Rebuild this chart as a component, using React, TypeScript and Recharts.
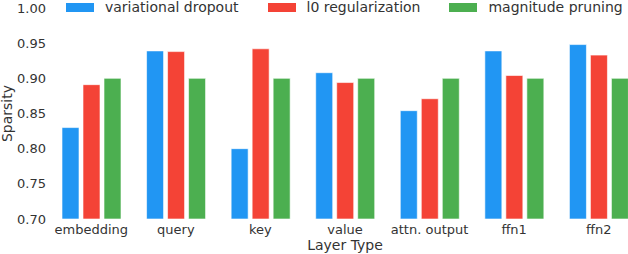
import { Bar, BarChart, Legend, XAxis, YAxis } from "recharts";

// values
const layers = ["embedding", "query", "key", "value", "attn. output", "ffn1", "ffn2"];
const variationalDropout = [0.83, 0.939, 0.8, 0.908, 0.854, 0.939, 0.948];
const l0Regularization = [0.891, 0.938, 0.942, 0.894, 0.871, 0.904, 0.933];
const magnitudePruning = [0.9, 0.9, 0.9, 0.9, 0.9, 0.9, 0.9];
const seriesNames = ["variational dropout", "l0 regularization", "magnitude pruning"];
const yTicks = [0.7, 0.75, 0.8, 0.85, 0.9, 0.95, 1.0];

const data = layers.map((name, i) => ({
  name,
  vd: variationalDropout[i],
  l0: l0Regularization[i],
  mp: magnitudePruning[i],
}));

const FONT = "'DejaVu Sans', sans-serif";
const TEXT = "#333";

function LegendRow(props: any) {
  // keep series order (recharts sorts legend entries by name otherwise)
  const items = [...(props.payload || [])].sort(
    (a: any, b: any) => seriesNames.indexOf(a.value) - seriesNames.indexOf(b.value)
  );
  return (
    <div style={{ display: "flex", fontFamily: FONT, fontSize: 14, color: TEXT }}>
      {items.map((it: any) => (
        <div key={it.value} style={{ display: "flex", alignItems: "center", marginRight: 29 }}>
          <span
            style={{
              display: "inline-block",
              width: 28,
              height: 9,
              background: it.color,
              marginRight: 11,
            }}
          />
          <span style={{ lineHeight: "14px" }}>{it.value}</span>
        </div>
      ))}
    </div>
  );
}

export default function App() {
  return (
    <div style={{ position: "absolute", left: 0, top: 0, width: 628, height: 254, overflow: "hidden", background: "#fff" }}>
      <BarChart
        width={645}
        height={254}
        data={data}
        margin={{ top: 8, right: 4, bottom: 0, left: 0 }}
        barGap={4}
        barSize={17}
      >
        <XAxis
          dataKey="name"
          height={35}
          axisLine={false}
          tickLine={false}
          tickSize={0}
          tickMargin={6}
          interval={0}
          tick={{ fill: TEXT, fontSize: 13, fontFamily: FONT }}
          label={{ value: "Layer Type", position: "insideBottom", offset: 4, fill: TEXT, fontSize: 14, fontFamily: FONT }}
        />
        <YAxis
          width={49}
          domain={[0.7, 1.0]}
          ticks={yTicks}
          allowDataOverflow
          axisLine={false}
          tickLine={false}
          tickSize={0}
          tickMargin={3}
          tickFormatter={(v: number) => v.toFixed(2)}
          tick={{ fill: TEXT, fontSize: 13, fontFamily: FONT }}
          label={{ value: "Sparsity", angle: -90, position: "center", dx: -17, fill: TEXT, fontSize: 14, fontFamily: FONT }}
        />
        <Legend
          layout="horizontal"
          verticalAlign="middle"
          content={<LegendRow />}
          wrapperStyle={{ top: 0, left: 66, width: 600 }}
        />
        <Bar dataKey="vd" name={seriesNames[0]} fill="#2196f3" stroke="#fff" strokeOpacity={0.6} isAnimationActive={false} />
        <Bar dataKey="l0" name={seriesNames[1]} fill="#f44336" stroke="#fff" strokeOpacity={0.6} isAnimationActive={false} />
        <Bar dataKey="mp" name={seriesNames[2]} fill="#4caf50" stroke="#fff" strokeOpacity={0.6} isAnimationActive={false} />
      </BarChart>
    </div>
  );
}
